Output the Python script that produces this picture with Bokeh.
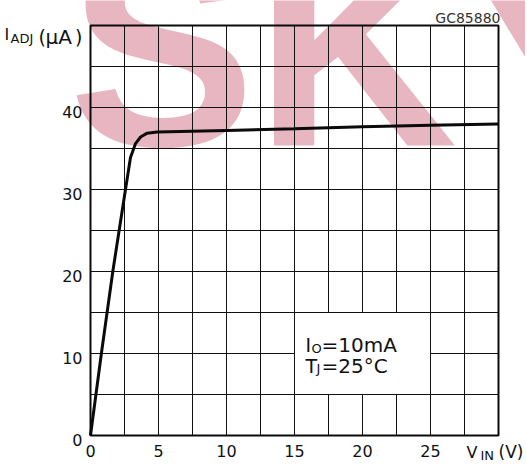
from bokeh.plotting import figure
from bokeh.core.properties import value
from bokeh.embed import file_html
from bokeh.resources import INLINE

# ---- data ----
vin = [0, 0.8, 1.64, 2.45, 2.94, 3.31, 3.68, 4.17, 4.9, 10, 15, 20, 25, 30]
iadj = [0, 10, 20, 28.7, 33.9, 35.6, 36.4, 36.87, 37.0, 37.2, 37.4, 37.65, 37.85, 38.0]
x_ticks = [0, 5, 10, 15, 20, 25]
x_tick_labels = ["0", "5", "10", "15", "20", "25"]
y_ticks = [0, 10, 20, 30, 40]
y_tick_labels = ["0", "10", "20", "30", "40"]
x_grid = [2.5 * k for k in range(1, 12)]
y_grid = [5 * k for k in range(1, 10)]
x_lim = [0, 30]
y_lim = [0, 50]
box_x = [15, 25]
box_y = [5, 15]
note_lines = [("I", "O", "=10mA"), ("T", "J", "=25\u00b0C")]
y_title = ("I", "ADJ", "(", "\u03bcA", ")")
x_title = ("V", "IN", "(V)")
code_text = "GC85880"
watermark = "SKY"

FONT = "DejaVu Sans"
W, H = 525, 465
# plot frame in canvas pixels: x 90..498, y 25..435
FL, FR, FT, FB = 90, 498, 25, 435
SX = (FR - FL) / (x_lim[1] - x_lim[0])
SY = (FB - FT) / (y_lim[1] - y_lim[0])


def dx(px):
    return x_lim[0] + (px - FL) / SX


def dy(py):
    return y_lim[0] + (FB - py) / SY


p = figure(width=W, height=H, x_range=(dx(0), dx(W)), y_range=(dy(H), dy(0)),
           output_backend="svg", toolbar_location=None,
           x_axis_location=None, y_axis_location=None,
           min_border_left=0, min_border_right=0, min_border_top=0, min_border_bottom=0)
p.xgrid.visible = False
p.ygrid.visible = False
p.outline_line_color = None
p.background_fill_color = "white"
p.border_fill_color = "white"

# watermark (drawn first, underneath everything)
p.text(x=[dx(68)], y=[dy(48)], text=[watermark], text_font=value("Liberation Sans"),
       text_font_style="bold", text_font_size=value("280px"), text_color="#E8B6C1",
       text_align="left", text_baseline="alphabetic")

# grid lines
p.segment(x0=x_grid, x1=x_grid, y0=[y_lim[0]] * len(x_grid), y1=[y_lim[1]] * len(x_grid),
          line_color="#111111", line_width=1)
p.segment(x0=[x_lim[0]] * len(y_grid), x1=[x_lim[1]] * len(y_grid), y0=y_grid, y1=y_grid,
          line_color="#111111", line_width=1)

# white annotation box
p.quad(left=[box_x[0]], right=[box_x[1]], bottom=[box_y[0]], top=[box_y[1]],
       fill_color="white", line_color="#111111", line_width=1)

# frame outline
p.quad(left=[x_lim[0]], right=[x_lim[1]], bottom=[y_lim[0]], top=[y_lim[1]],
       fill_alpha=0, line_color="#0a0a0a", line_width=2)

# curve
p.line(vin, iadj, line_color="#0a0a0a", line_width=3)

# tick labels
p.text(x=[dx(82)] * len(y_ticks), y=[t - 4 / SY for t in y_ticks], text=y_tick_labels,
       text_font=value(FONT), text_font_size=value("16px"), text_color="#111111",
       text_align="right", text_baseline="middle")
p.text(x=x_ticks, y=[dy(450)] * len(x_ticks), text=x_tick_labels,
       text_font=value(FONT), text_font_size=value("16px"), text_color="#111111",
       text_align="center", text_baseline="middle")


def lab(px, py, text, size, align="left", color="#111111"):
    p.text(x=[dx(px)], y=[dy(py)], text=[text], text_font=value(FONT),
           text_font_size=value(size), text_color=color,
           text_align=align, text_baseline="middle")


# note text
(m1, s1, r1), (m2, s2, r2) = note_lines
lab(305, 344.5, m1, "19px")
lab(311, 347.5, s1, "13px")
lab(321, 344.5, r1, "20px")
lab(305, 365, m2, "19px")
lab(316, 368, s2, "13px")
lab(321, 365, r2, "20px")

# axis titles
lab(4, 34, y_title[0], "16px")
lab(10, 38, y_title[1], "13px")
lab(38, 36, y_title[2], "19px")
lab(45, 36, y_title[3], "20px")
lab(82, 36, y_title[4], "19px", align="right")

lab(466, 452, x_title[0], "16px")
lab(480, 455, x_title[1], "13px")
lab(523, 451, x_title[2], "17px", align="right")

lab(500, 17, code_text, "14px", align="right", color="#333333")

open("out.html", "w").write(file_html(p, INLINE))
